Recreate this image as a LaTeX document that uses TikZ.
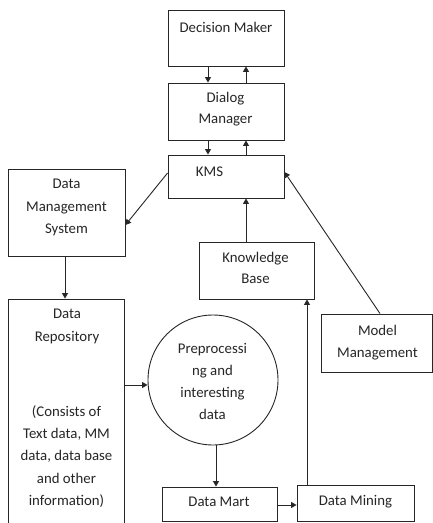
\documentclass[tikz,border=0pt]{standalone}
\usepackage{fontspec}
\setmainfont{Carlito}
\usetikzlibrary{arrows.meta}
\begin{document}
\begin{tikzpicture}[x=1pt,y=-1pt,
  ln/.style={draw=black!85,line width=0.9pt},
  box/.style={ln,rectangle,inner sep=0pt},
  txt/.style={align=center,inner sep=0pt,text=black!85,
    font=\fontsize{14.8}{22.3}\selectfont},
  arr/.style={ln,-{Triangle[length=5.5pt,width=6pt]}}]
\clip (0,0) rectangle (433,523);
\fill[white] (0,0) rectangle (433,523);

% boxes
\node[box,minimum width=116pt,minimum height=56pt] (decm) at (226,38) {};
\node[box,minimum width=116pt,minimum height=57pt] (dial) at (226,111.5) {};
\node[box,minimum width=116pt,minimum height=43pt] (kms) at (226,176.5) {};
\node[box,minimum width=117pt,minimum height=87pt] (dms) at (66.5,212.5) {};
\node[box,minimum width=115pt,minimum height=57pt] (kb) at (256.5,270.5) {};
\node[box,minimum width=116pt,minimum height=230pt] (repo) at (66,414) {};
\node[ln,circle,minimum size=130pt,inner sep=0pt] (prep) at (213,380) {};
\node[box,minimum width=111pt,minimum height=58pt] (model) at (376.5,343) {};
\node[box,minimum width=115pt,minimum height=34pt] (mart) at (219.5,504) {};
\node[box,minimum width=117pt,minimum height=36pt] (mine) at (355.5,503) {};

% texts
\node[txt] (tdecm) at (226,27) {Decision Maker};
\node[txt,font=\fontsize{14.8}{20.5}\selectfont] (tdial) at (225.5,109) {Dialog\\Manager};
\node[txt] (tkms) at (209.5,172) {KMS};
\node[txt] (tdms) at (66.5,207.5) {Data\\Management\\System};
\node[txt,font=\fontsize{14.8}{20.5}\selectfont] (tkb) at (255.5,268) {Knowledge\\Base};
\node[txt] (trepoa) at (67,326.5) {Data\\Repository};
\node[txt] (trepob) at (66.5,456.5) {(Consists of\\Text data, MM\\data, data base\\and other\\information)};
\node[txt] (tprep) at (212.5,381.5) {Preprocessi\\ng and\\interesting\\data};
\node[txt] (tmodel) at (377.5,342.5) {Model\\Management};
\node[txt] (tmart) at (219,502) {Data Mart};
\node[txt] (tmine) at (355.5,502) {Data Mining};

% connectors
\draw[arr] ([xshift=-18pt]decm.south) -- ([xshift=-18pt]dial.north);
\draw[arr] ([xshift=20pt]dial.north) -- ([xshift=20pt]decm.south);
\draw[arr] ([xshift=-18pt]dial.south) -- ([xshift=-18pt]kms.north);
\draw[arr] ([xshift=20pt]kms.north) -- ([xshift=20pt]dial.south);
\draw[arr] ([yshift=3.5pt]kms.west) -- ([yshift=-12.5pt]dms.east);
\draw[arr] ([xshift=-10.5pt]kb.north) -- ([xshift=-10.5pt]kb.north |- kms.south);
\draw[arr] ([xshift=3.5pt]model.north) -- ([yshift=4.5pt]kms.east);
\draw[arr] ([xshift=-1.5pt]dms.south) -- ([xshift=-1.5pt]dms.south |- repo.north);
\draw[arr] ([yshift=-5pt]prep.west -| repo.east) -- ([yshift=-5pt]prep.west);
\draw[arr] ([xshift=3pt]prep.south) -- ([xshift=3pt]prep.south |- mart.north);
\draw[arr] ([yshift=-1pt]mart.east) -- ([yshift=-1pt]mart.east -| mine.west);
\draw[arr] ([xshift=-48.5pt]mine.north) -- ([xshift=-48.5pt]mine.north |- kb.south);
\end{tikzpicture}
\end{document}
